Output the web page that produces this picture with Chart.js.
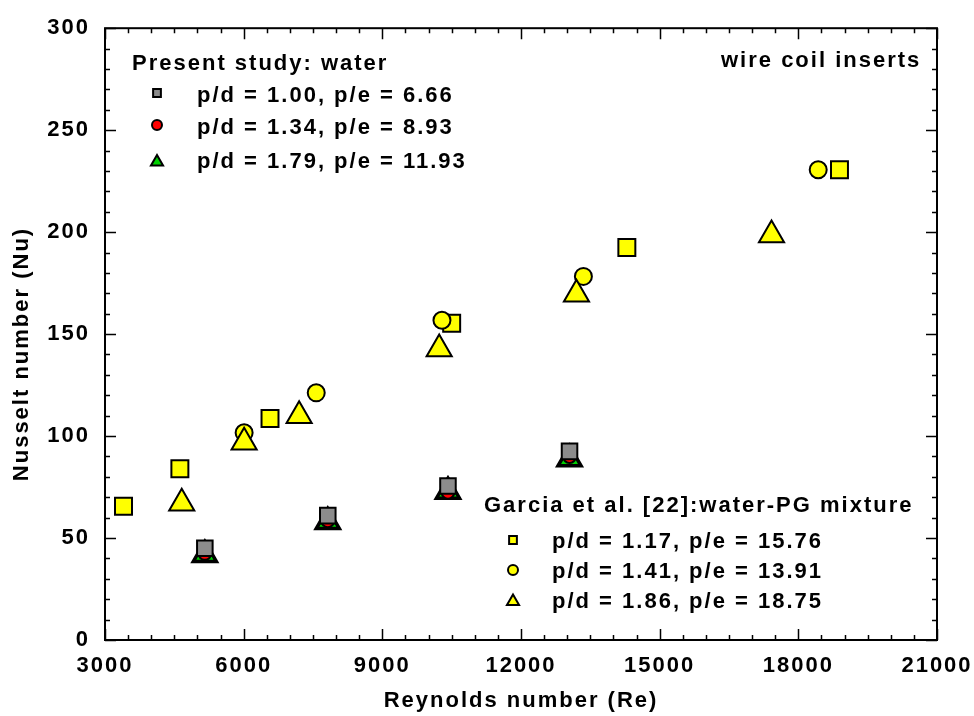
<!DOCTYPE html>
<html>
<head>
<meta charset="utf-8">
<title>Nusselt number vs Reynolds number</title>
<script src="https://cdn.jsdelivr.net/npm/chart.js@4.4.0/dist/chart.umd.min.js"></script>
<style>
  html, body { margin: 0; padding: 0; background: #fff; }
  #wrap { width: 974px; height: 716px; }
</style>
</head>
<body>
<div id="wrap"><canvas id="nuChart" width="974" height="716"></canvas></div>
<script>
// Present study (water), three coil pitches at the same Re
const reWater = [5160, 7820, 10420, 13050];
const nuWaterSq = [45, 61, 75.5, 92.5];
const nuWaterCir = [42.5, 58.5, 72.5, 90];
const nuWaterTri = [41.8, 57.9, 72.8, 88.7];

// Garcia et al. [22], water-PG mixture
const rePgSq = [3400, 4620, 6570, 10500, 14290, 18890];
const nuPgSq = [65.6, 84, 108.6, 155.3, 192.5, 230.6];
const rePgCir = [6010, 7570, 10290, 13350, 18430];
const nuPgCir = [101.6, 121.2, 156.8, 178.3, 230.6];
const rePgTri = [4660, 6010, 7200, 10230, 13200, 17420];
const nuPgTri = [67, 97, 110, 142.7, 169.6, 198.6];

// legend labels
const waterTitle = 'Present study: water';
const waterLabels = ['p/d = 1.00, p/e = 6.66', 'p/d = 1.34, p/e = 8.93', 'p/d = 1.79, p/e = 11.93'];
const pgTitle = 'Garcia et al. [22]:water-PG mixture';
const pgLabels = ['p/d = 1.17, p/e = 15.76', 'p/d = 1.41, p/e = 13.91', 'p/d = 1.86, p/e = 18.75'];

const xTitle = 'Reynolds number (Re)';
const yTitle = 'Nusselt number (Nu)';
const note = 'wire coil inserts';

const FONT = 'bold 22px "Liberation Sans", Arial, sans-serif';

function pts(xs, ys) {
    return xs.map((x, i) => ({ x: x, y: ys[i] }));
}

function series(xs, ys, style, fill, r, bw) {
    return {
        data: pts(xs, ys),
        pointStyle: style,
        pointRadius: r,
        pointBackgroundColor: fill,
        pointBorderColor: '#000',
        pointBorderWidth: bw,
        showLine: false
    };
}

// frame, inward ticks, legends and axis titles
const decor = {
    id: 'decor',
    beforeDraw(chart) {
        chart.ctx.letterSpacing = '2px';
    },
    afterDraw(chart) {
        const ctx = chart.ctx;
        const a = chart.chartArea;
        const xs = chart.scales.x, ys = chart.scales.y;
        ctx.save();
        ctx.letterSpacing = '2px';
        ctx.strokeStyle = '#000';

        // ticks on all four sides
        ctx.lineWidth = 1.5;
        ctx.beginPath();
        for (let v = 3000; v <= 21000; v += 500) {
            const px = Math.round(xs.getPixelForValue(v)) + 0.5;
            const len = v % 3000 === 0 ? 11 : 5;
            ctx.moveTo(px, a.bottom); ctx.lineTo(px, a.bottom - len);
            ctx.moveTo(px, a.top); ctx.lineTo(px, a.top + len);
        }
        for (let v = 0; v <= 300; v += 10) {
            const py = Math.round(ys.getPixelForValue(v)) + 0.5;
            const len = v % 50 === 0 ? 11 : 5;
            ctx.moveTo(a.left, py); ctx.lineTo(a.left + len, py);
            ctx.moveTo(a.right, py); ctx.lineTo(a.right - len, py);
        }
        ctx.stroke();

        ctx.lineWidth = 2;
        ctx.strokeRect(a.left, a.top, a.right - a.left, a.bottom - a.top);

        ctx.fillStyle = '#000';
        ctx.font = FONT;
        ctx.textBaseline = 'middle';
        ctx.textAlign = 'left';

        ctx.fillText(note, 721, 61);

        // legend boxes
        const mark = (style, fill, r, x, y) => {
            ctx.fillStyle = fill;
            ctx.strokeStyle = '#000';
            ctx.lineWidth = 2;
            Chart.helpers.drawPoint(ctx, { pointStyle: style, radius: r, rotation: 0, borderWidth: 2 }, x, y);
        };
        const waterMarks = [['rect', '#8c8c8c', 5.5], ['circle', '#ff0000', 5], ['triangle', '#00d000', 7]];
        const pgMarks = [['rect', '#ffff00', 5.5], ['circle', '#ffff00', 5], ['triangle', '#ffff00', 7]];
        const waterY = [95, 127, 161];
        const pgY = [541, 571, 600.5];

        ctx.fillStyle = '#000';
        ctx.fillText(waterTitle, 132, 64);
        ctx.fillText(pgTitle, 484, 506);
        waterLabels.forEach((s, i) => {
            const m = waterMarks[i];
            mark(m[0], m[1], m[2], 157, waterY[i] + (m[0] === 'triangle' ? 1 : -2));
            ctx.fillStyle = '#000';
            ctx.fillText(s, 197, waterY[i] + 1);
        });
        pgLabels.forEach((s, i) => {
            const m = pgMarks[i];
            mark(m[0], m[1], m[2], 513, pgY[i] + (m[0] === 'triangle' ? 1 : -1));
            ctx.fillStyle = '#000';
            ctx.fillText(s, 552, pgY[i] + 1);
        });

        // axis titles
        ctx.fillStyle = '#000';
        ctx.textAlign = 'center';
        ctx.fillText(xTitle, (a.left + a.right) / 2, 701);
        ctx.save();
        ctx.translate(22, 354);
        ctx.rotate(-Math.PI / 2);
        ctx.fillText(yTitle, 0, 0);
        ctx.restore();

        ctx.restore();
    }
};

const ctx = document.getElementById('nuChart').getContext('2d');
const nuChart = new Chart(ctx, {
    type: 'scatter',
    data: {
        datasets: [
            series(reWater, nuWaterSq, 'rect', '#8c8c8c', 11, 2),
            series(reWater, nuWaterCir, 'circle', '#ff0000', 6.5, 2),
            series(reWater, nuWaterTri, 'triangle', '#00d000', 13.3, 3.5),
            series(rePgTri, nuPgTri, 'triangle', '#ffff00', 14.5, 2),
            series(rePgCir, nuPgCir, 'circle', '#ffff00', 8.5, 2),
            series(rePgSq, nuPgSq, 'rect', '#ffff00', 12, 2)
        ]
    },
    plugins: [decor],
    options: {
        responsive: false,
        animation: false,
        layout: {
            padding: { top: 26, right: 0, left: 0, bottom: 0 }
        },
        plugins: {
            legend: { display: false },
            tooltip: { enabled: false }
        },
        scales: {
            x: {
                type: 'linear',
                min: 3000,
                max: 21000,
                grid: { display: false, drawTicks: false },
                border: { display: false },
                ticks: {
                    stepSize: 3000,
                    padding: 13,
                    color: '#000',
                    maxRotation: 0,
                    callback: (v) => String(v),
                    font: { family: '"Liberation Sans", Arial, sans-serif', size: 22, weight: 'bold' }
                },
                afterFit(scale) {
                    scale.height = 76;
                    scale.paddingLeft = 0;
                    scale.paddingRight = 37;
                }
            },
            y: {
                min: 0,
                max: 300,
                grid: { display: false, drawTicks: false },
                border: { display: false },
                ticks: {
                    stepSize: 50,
                    padding: 15,
                    color: '#000',
                    callback: (v) => String(v),
                    font: { family: '"Liberation Sans", Arial, sans-serif', size: 22, weight: 'bold' }
                },
                afterFit(scale) { scale.width = 105; }
            }
        }
    }
});
</script>
</body>
</html>
